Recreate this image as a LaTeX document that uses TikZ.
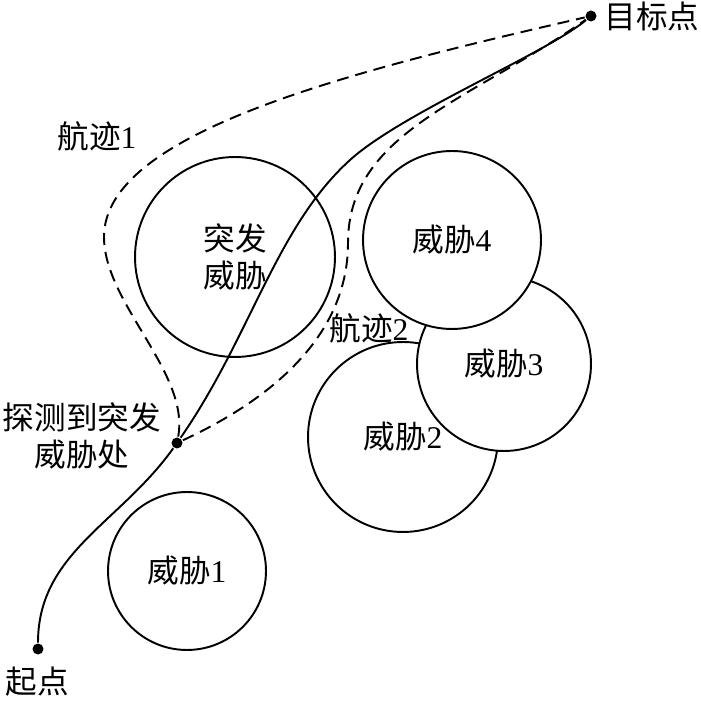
\documentclass[tikz,border=0pt]{standalone}
\usepackage{fontspec}
\setmainfont{Liberation Serif}
\newfontfamily\cjk{Noto Sans CJK SC}
\newcommand{\zh}[1]{{\cjk #1}}
\usetikzlibrary{positioning}

\tikzset{
  threat/.style={circle, draw, fill=white, inner sep=0pt, align=center},
  waypt/.style={circle, fill, inner sep=0pt, minimum size=0.22cm},
  track/.style={dash pattern=on 6.8pt off 4pt},
}

\begin{document}
\begin{tikzpicture}[x=0.02cm, y=0.02cm, line width=1.1pt,
    font=\fontsize{18}{21}\selectfont]
  \useasboundingbox (0,0) rectangle (700,703);

  % 威胁区 (白底, 后画的盖住先画的)
  \node[threat, minimum size=4cm]    (t0) at (235,446) {\zh{突发}\\\zh{威胁}};
  \node[threat, minimum size=3.16cm] (t1) at (187,132) {\zh{威胁}1};
  \node[threat, minimum size=3.8cm]  (t2) at (403,266) {\zh{威胁}2};
  \node[threat, minimum size=3.48cm] (t3) at (504,339) {\zh{威胁}3};
  \node[threat, minimum size=3.56cm] (t4) at (452,463) {\zh{威胁}4};

  % 起点 / 探测点 / 目标点
  \node[waypt] (start)  at (38,54)   {};
  \node[waypt] (detect) at (177,260) {};
  \node[waypt] (goal)   at (591,687) {};
  \coordinate (bend)  at (350,543);
  \coordinate (left1) at (104,466);
  \coordinate (mid2)  at (348,460);

  % 原航迹 (实线)
  \draw (start) .. controls (38,150) and (120,180) .. (detect)
        .. controls (251,367) and (276,476) .. (bend)
        .. controls (402,590) and (545,649) .. (goal);
  % 航迹1 (虚)
  \draw[track] (detect) .. controls (190,330) and (104,400) .. (left1)
        .. controls (104,570) and (347,631) .. (goal);
  % 航迹2 (虚)
  \draw[track] (detect) .. controls (259,298) and (348,360) .. (mid2)
        .. controls (348,570) and (468,601) .. (goal);

  \node (lbl1)  at (97,567)  {\zh{航迹}1};
  \node (lbl2)  at (369,375) {\zh{航迹}2};
  \node (lstart) at (37,21)  {\zh{起点}};
  \node[align=center] (ldetect) at (82,267) {\zh{探测到突发}\\\zh{威胁处}};
  \node (lgoal) at (652,687) {\zh{目标点}};
\end{tikzpicture}
\end{document}
